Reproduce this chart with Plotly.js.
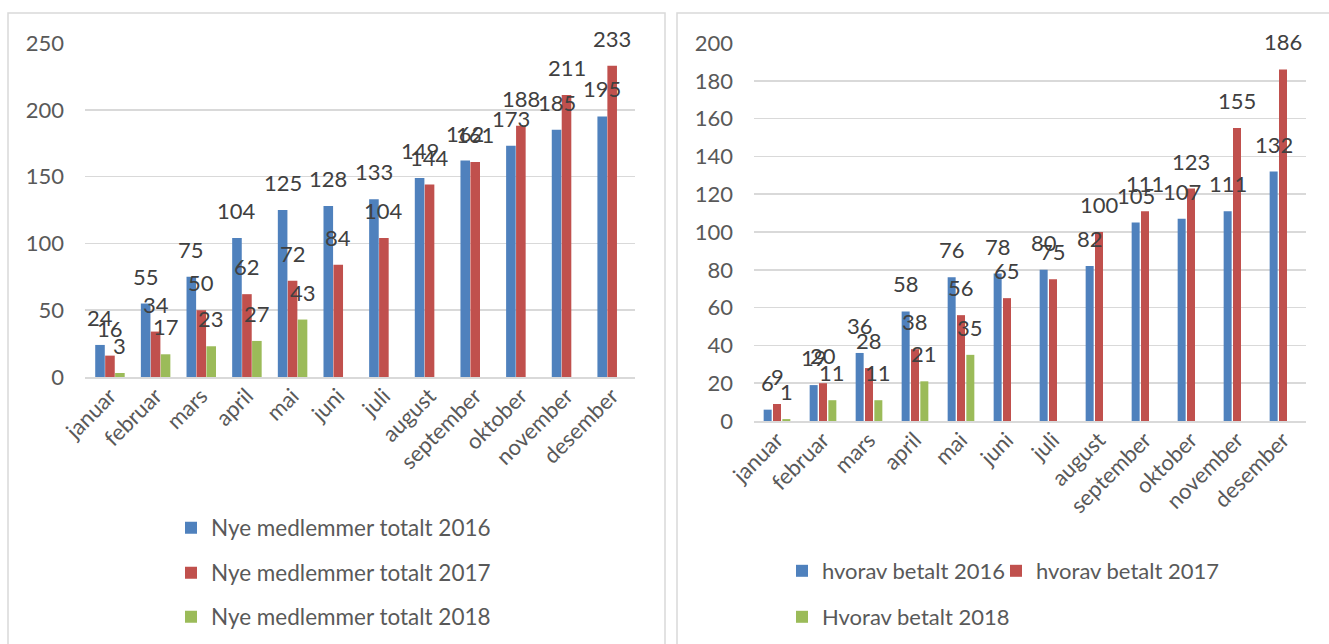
<!DOCTYPE html>
<html>
<head>
<meta charset="utf-8">
<script src="https://cdn.plot.ly/plotly-3.0.1.min.js"></script>
<style>
  html, body { margin: 0; padding: 0; background: #fff; }
  #chart { width: 1329px; height: 644px; }
</style>
</head>
<body>
<div id="chart"></div>
<script>
// ---- data ----
var months = ["januar", "februar", "mars", "april", "mai", "juni", "juli", "august", "september", "oktober", "november", "desember"];

var totalNames = ["Nye medlemmer totalt 2016", "Nye medlemmer totalt 2017", "Nye medlemmer totalt 2018"];
var total2016 = [24, 55, 75, 104, 125, 128, 133, 149, 162, 173, 185, 195];
var total2017 = [16, 34, 50, 62, 72, 84, 104, 144, 161, 188, 211, 233];
var total2018 = [3, 17, 23, 27, 43, null, null, null, null, null, null, null];

var paidNames = ["hvorav betalt 2016", "hvorav betalt 2017", "Hvorav betalt 2018"];
var paid2016 = [6, 19, 36, 58, 76, 78, 80, 82, 105, 107, 111, 132];
var paid2017 = [9, 20, 28, 38, 56, 65, 75, 100, 111, 123, 155, 186];
var paid2018 = [1, 11, 11, 21, 35, null, null, null, null, null, null, null];

// ---- styling ----
var W = 1329, H = 644;
var colors = ["#4F81BD", "#C0504D", "#9BBB59"];
var FONT = "Lato, 'Open Sans', sans-serif";
var FS = 22;
var tickColor = "#595959";
var labelColor = "#404040";
var gridColor = "#D9D9D9";

function px(x) { return x / W; }
function py(y) { return 1 - y / H; }

// bar geometry (category units)
var leftSlot = 0.218, leftWidth = 0.21;
var rightSlot = 0.203, rightWidth = 0.174;

var traces = [];
var annotations = [];

function addSeries(vals, name, idx, xa, ya, slot, width, legendId) {
  var center = (idx - 1) * slot;
  traces.push({
    type: "bar",
    x: months,
    y: vals,
    name: name,
    xaxis: xa,
    yaxis: ya,
    width: width,
    offset: center - width / 2,
    marker: { color: colors[idx], line: { width: 0 } },
    legend: legendId,
    hoverinfo: "x+y+name"
  });
  vals.forEach(function (v, i) {
    if (v === null || v === undefined) return;
    annotations.push({
      xref: xa, yref: ya,
      x: i + center,
      y: v,
      text: String(v),
      showarrow: false,
      xanchor: "center",
      yanchor: "bottom",
      yshift: 12,
      font: { family: FONT, size: FS, color: labelColor }
    });
  });
}

addSeries(total2016, totalNames[0], 0, "x", "y", leftSlot, leftWidth, "legend");
addSeries(total2017, totalNames[1], 1, "x", "y", leftSlot, leftWidth, "legend2");
addSeries(total2018, totalNames[2], 2, "x", "y", leftSlot, leftWidth, "legend3");
addSeries(paid2016, paidNames[0], 0, "x2", "y2", rightSlot, rightWidth, "legend4");
addSeries(paid2017, paidNames[1], 1, "x2", "y2", rightSlot, rightWidth, "legend5");
addSeries(paid2018, paidNames[2], 2, "x2", "y2", rightSlot, rightWidth, "legend6");

function legendAt(xText, yMid, size) {
  return {
    x: px(xText - 40), y: py(yMid),
    xanchor: "left", yanchor: "middle",
    orientation: "v",
    bgcolor: "rgba(0,0,0,0)",
    borderwidth: 0,
    font: { family: FONT, size: size, color: tickColor }
  };
}

var xAxisBase = {
  type: "category",
  tickangle: -45,
  tickfont: { family: FONT, size: FS, color: tickColor },
  showgrid: false,
  showline: true,
  linecolor: gridColor,
  linewidth: 1.5,
  ticks: "",
  ticklabelstandoff: -4,
  fixedrange: true
};
var yAxisBase = {
  showgrid: true,
  gridcolor: gridColor,
  gridwidth: 1.5,
  zeroline: false,
  showline: false,
  ticks: "",
  tickfont: { family: FONT, size: FS, color: tickColor },
  ticklabelstandoff: 20,
  fixedrange: true
};

var layout = {
  width: W, height: H,
  margin: { l: 0, r: 0, t: 0, b: 0 },
  paper_bgcolor: "#fff",
  plot_bgcolor: "rgba(0,0,0,0)",
  barmode: "overlay",
  font: { family: FONT, color: tickColor },
  xaxis: Object.assign({}, xAxisBase, { domain: [px(85), px(635)], anchor: "y" }),
  yaxis: Object.assign({}, yAxisBase, { domain: [py(377), py(43)], range: [0, 250], dtick: 50, anchor: "x" }),
  xaxis2: Object.assign({}, xAxisBase, { domain: [px(754), px(1306)], anchor: "y2" }),
  yaxis2: Object.assign({}, yAxisBase, { domain: [py(421), py(43)], range: [0, 200], dtick: 20, anchor: "x2" }),
  legend: legendAt(211, 528, 22.5),
  legend2: legendAt(211, 573, 22.5),
  legend3: legendAt(211, 617, 22.5),
  legend4: legendAt(822, 571, 22),
  legend5: legendAt(1036, 571, 22),
  legend6: legendAt(822, 617, 22),
  annotations: annotations,
  shapes: [
    { type: "rect", xref: "paper", yref: "paper", x0: px(8), x1: px(665), y0: -0.05, y1: py(13),
      line: { color: gridColor, width: 1.5 }, fillcolor: "rgba(0,0,0,0)", layer: "below" },
    { type: "rect", xref: "paper", yref: "paper", x0: px(677), x1: 1.05, y0: -0.05, y1: py(13),
      line: { color: gridColor, width: 1.5 }, fillcolor: "rgba(0,0,0,0)", layer: "below" }
  ],
  showlegend: true
};

Plotly.newPlot("chart", traces, layout, { displayModeBar: false, staticPlot: true });
</script>
</body>
</html>
